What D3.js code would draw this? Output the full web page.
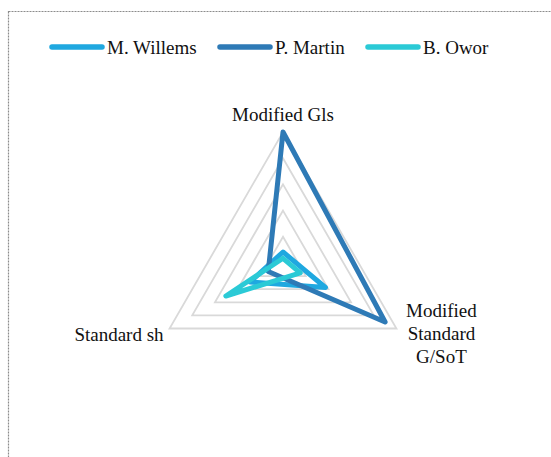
<!DOCTYPE html>
<html>
<head>
<meta charset="utf-8">
<script src="https://cdn.jsdelivr.net/npm/d3@7"></script>
<style>
  html, body { margin: 0; padding: 0; background: #fff; }
  svg { display: block; }
</style>
</head>
<body>
<svg id="chart" width="551" height="457"></svg>
<script>
// Axes of the radar, clockwise from the top
const axes = ["Modified Gls", "Modified Standard G/SoT", "Standard sh"];
// Multi-line axis labels
const axisLabelLines = [["Modified Gls"], ["Modified", "Standard", "G/SoT"], ["Standard sh"]];

const seriesNames = ["M. Willems", "P. Martin", "B. Owor"];
const willemsValues = [0.42, 1.87, 1.45];
const martinValues = [5.0, 4.5, 0.65];
const oworValues = [0.18, 0.76, 2.52];
const seriesColors = ["#1fa8e0", "#2e7ab6", "#2bcad6"];

const gridLevels = [1, 2, 3, 4, 5];
const maxValue = 5;

const FONT = "'Liberation Serif', 'Times New Roman', Tinos, 'DejaVu Serif', serif";

const svg = d3.select("#chart");
const W = 551, H = 457;

// Dashed chart frame
svg.append("rect")
  .attr("x", 8.5).attr("y", 11.5)
  .attr("width", W + 20).attr("height", H + 20)
  .attr("fill", "none")
  .attr("stroke", "#8c8c8c")
  .attr("stroke-width", 1.2)
  .attr("stroke-dasharray", "2,1");

const cx = 283, cy = 263, R = 131;
const r = d3.scaleLinear().domain([0, maxValue]).range([0, R]);
const angle = d3.scalePoint().domain(axes).range([0, 2 * Math.PI * (axes.length - 1) / axes.length]);

const g = svg.append("g").attr("transform", `translate(${cx},${cy})`);

// Concentric grid triangles
const radarLine = d3.lineRadial()
  .angle(d => angle(d.axis))
  .radius(d => r(d.value))
  .curve(d3.curveLinearClosed);

g.selectAll("path.grid")
  .data(gridLevels)
  .join("path")
  .attr("class", "grid")
  .attr("d", lv => radarLine(axes.map(a => ({ axis: a, value: lv }))))
  .attr("fill", "none")
  .attr("stroke", "#d9d9d9")
  .attr("stroke-width", 1.8);

// Series polygons
const series = [
  { name: seriesNames[0], values: willemsValues, color: seriesColors[0] },
  { name: seriesNames[1], values: martinValues, color: seriesColors[1] },
  { name: seriesNames[2], values: oworValues, color: seriesColors[2] }
];

g.selectAll("path.series")
  .data(series)
  .join("path")
  .attr("class", "series")
  .attr("d", s => radarLine(axes.map((a, i) => ({ axis: a, value: s.values[i] }))))
  .attr("fill", "none")
  .attr("stroke", s => s.color)
  .attr("stroke-width", 5)
  .attr("stroke-linejoin", "round");

// Axis labels
axes.forEach((a, i) => {
  const t = angle(a);
  const x = r(maxValue) * Math.sin(t);
  const y = -r(maxValue) * Math.cos(t);
  const lines = axisLabelLines[i];
  const txt = g.append("text")
    .attr("font-family", FONT)
    .attr("font-size", 19)
    .attr("fill", "#111");
  if (i === 0) {
    txt.attr("text-anchor", "middle").attr("x", x).attr("y", y - 11).text(lines[0]);
  } else if (i === 1) {
    txt.attr("text-anchor", "middle");
    lines.forEach((ln, k) => {
      txt.append("tspan")
        .attr("x", x + 45)
        .attr("y", y - 12 + k * 23)
        .text(ln);
    });
  } else {
    txt.attr("text-anchor", "end").attr("x", x - 6).attr("y", y + 12).text(lines[0]);
  }
});

// Legend
const legendX = [52, 220, 368];
const legendY = 47;
const legend = svg.append("g");
series.forEach((s, i) => {
  legend.append("line")
    .attr("x1", legendX[i]).attr("x2", legendX[i] + 50)
    .attr("y1", legendY).attr("y2", legendY)
    .attr("stroke", s.color)
    .attr("stroke-width", 5.5)
    .attr("stroke-linecap", "round");
  legend.append("text")
    .attr("x", legendX[i] + 55)
    .attr("y", legendY + 6.5)
    .attr("font-family", FONT)
    .attr("font-size", 19)
    .attr("fill", "#111")
    .text(s.name);
});
</script>
</body>
</html>
